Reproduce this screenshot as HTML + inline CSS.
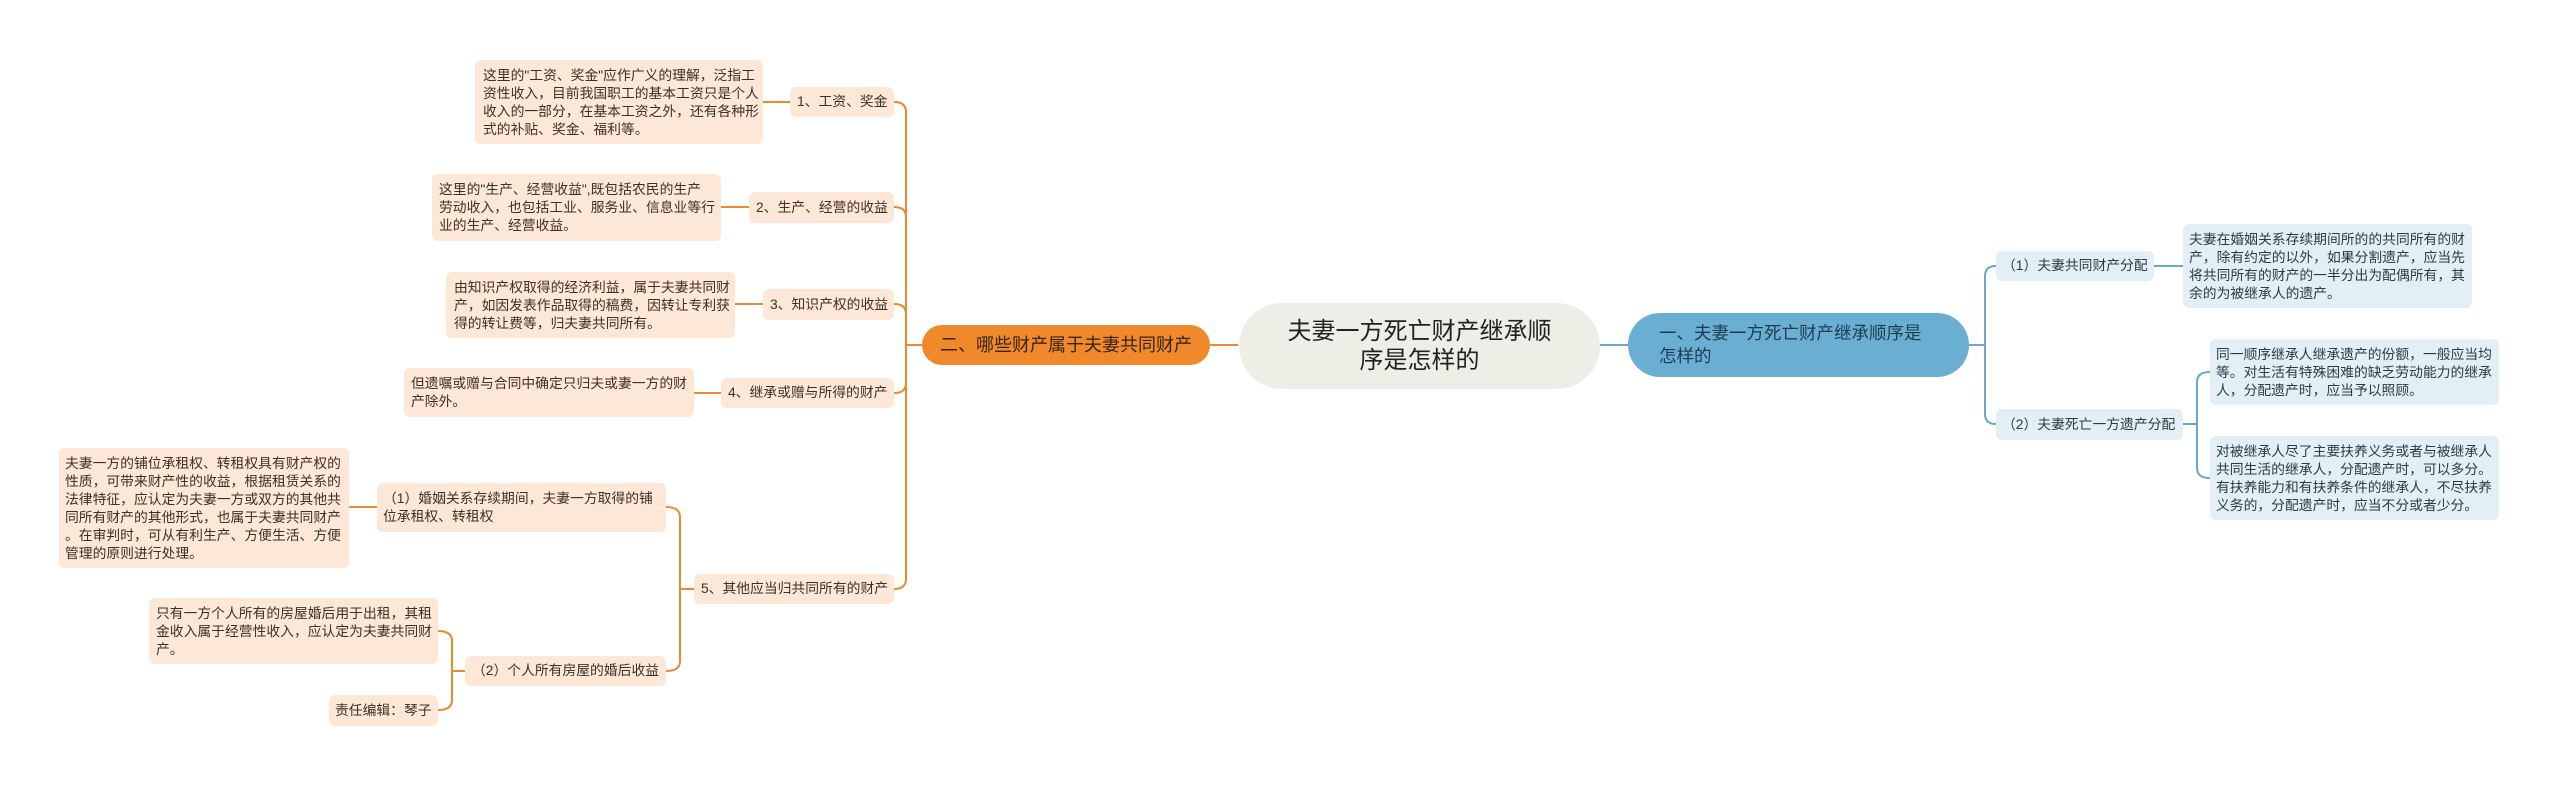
<!DOCTYPE html>
<html><head><meta charset="utf-8"><style>
body{margin:0;width:2560px;height:786px;background:#fff;position:relative;overflow:hidden;font-family:"Liberation Sans","Noto Sans CJK SC",sans-serif;}
.b{position:absolute;box-sizing:border-box;border-radius:6px;white-space:nowrap;font-size:13.8px;line-height:18px;color:#3b3128;}
.p{background:#fde8d7;}
.q{background:#e2eff7;color:#2f3b44;}
.n{display:flex;align-items:center;}
svg{position:absolute;left:0;top:0;}
</style></head><body>
<svg width="2560" height="786" fill="none">
<g stroke="#ea8a2e" stroke-width="2">
<path d="M1238 345 L1210 345"/>
<path d="M922 345 L910 345"/>
<path d="M906 345 L906 112 Q906 102 894 102"/>
<path d="M906 345 L906 217 Q906 207 894 207"/>
<path d="M906 345 L906 314 Q906 304 894 304"/>
<path d="M906 345 L906 383 Q906 393 894 393"/>
<path d="M906 345 L906 579 Q906 589 894 589"/>
<path d="M910 345 L906 345"/>
<path d="M790 102 L763 102"/><path d="M749 207 L721 207"/><path d="M763 304 L735 304"/><path d="M721 393 L694 393"/>
<path d="M694 589 L680 589"/>
<path d="M680 589 L680 517 Q680 507 666 507"/>
<path d="M680 589 L680 661 Q680 671 666 671"/>
<path d="M377 507 L349 507"/>
<path d="M465 671 L452 671"/>
<path d="M452 671 L452 641 Q452 631 438 631"/>
<path d="M452 671 L452 700 Q452 710 438 710"/>
</g>
<g stroke="#6aa8c8" stroke-width="2">
<path d="M1600 345 L1628 345"/>
<path d="M1969 345 L1985 345"/>
<path d="M1985 345 L1985 276 Q1985 266 1996 266"/>
<path d="M1985 345 L1985 414 Q1985 424 1996 424"/>
<path d="M2154 266 L2183 266"/>
<path d="M2183 424 L2197 424"/>
<path d="M2197 424 L2197 382 Q2197 372 2210 372"/>
<path d="M2197 424 L2197 468 Q2197 478 2210 478"/>
</g>
</svg>

<div class="b n" style="left:1239px;top:303px;width:361px;height:86px;border-radius:43px;background:#efeee6;justify-content:center;text-align:center;font-size:24px;line-height:29px;color:#222;">夫妻一方死亡财产继承顺<br>序是怎样的</div>
<div class="b n" style="left:922px;top:325px;width:288px;height:40px;border-radius:20px;background:#f0892b;justify-content:center;font-size:18px;color:#3a2410;">二、哪些财产属于夫妻共同财产</div>
<div class="b n" style="left:1628px;top:313px;width:341px;height:64px;border-radius:32px;background:#6aaed2;padding-left:31px;font-size:17.5px;line-height:23px;color:#1d3d52;">一、夫妻一方死亡财产继承顺序是<br>怎样的</div>

<div class="b p" style="left:475px;top:60px;width:288px;height:84px;padding:7px 0 0 8px;">这里的"工资、奖金"应作广义的理解，泛指工<br>资性收入，目前我国职工的基本工资只是个人<br>收入的一部分，在基本工资之外，还有各种形<br>式的补贴、奖金、福利等。</div>
<div class="b p n" style="left:790px;top:87px;width:104px;height:30px;padding-left:7px;">1、工资、奖金</div>
<div class="b p" style="left:432px;top:174px;width:289px;height:67px;padding:7px 0 0 7px;">这里的"生产、经营收益",既包括农民的生产<br>劳动收入，也包括工业、服务业、信息业等行<br>业的生产、经营收益。</div>
<div class="b p n" style="left:749px;top:192px;width:145px;height:31px;padding-left:7px;">2、生产、经营的收益</div>
<div class="b p" style="left:446px;top:272px;width:289px;height:66px;padding:7px 0 0 8px;">由知识产权取得的经济利益，属于夫妻共同财<br>产，如因发表作品取得的稿费，因转让专利获<br>得的转让费等，归夫妻共同所有。</div>
<div class="b p n" style="left:763px;top:289px;width:131px;height:31px;padding-left:7px;">3、知识产权的收益</div>
<div class="b p" style="left:404px;top:368px;width:290px;height:49px;padding:7px 0 0 7px;">但遗嘱或赠与合同中确定只归夫或妻一方的财<br>产除外。</div>
<div class="b p n" style="left:721px;top:378px;width:173px;height:30px;padding-left:7px;">4、继承或赠与所得的财产</div>
<div class="b p n" style="left:694px;top:574px;width:200px;height:30px;padding-left:7px;">5、其他应当归共同所有的财产</div>
<div class="b p" style="left:59px;top:448px;width:290px;height:120px;padding:7px 0 0 6px;">夫妻一方的铺位承租权、转租权具有财产权的<br>性质，可带来财产性的收益，根据租赁关系的<br>法律特征，应认定为夫妻一方或双方的其他共<br>同所有财产的其他形式，也属于夫妻共同财产<br>。在审判时，可从有利生产、方便生活、方便<br>管理的原则进行处理。</div>
<div class="b p" style="left:377px;top:483px;width:289px;height:49px;padding:7px 0 0 6px;">（1）婚姻关系存续期间，夫妻一方取得的铺<br>位承租权、转租权</div>
<div class="b p" style="left:149px;top:598px;width:289px;height:66px;padding:7px 0 0 7px;">只有一方个人所有的房屋婚后用于出租，其租<br>金收入属于经营性收入，应认定为夫妻共同财<br>产。</div>
<div class="b p n" style="left:465px;top:656px;width:201px;height:30px;padding-left:7px;">（2）个人所有房屋的婚后收益</div>
<div class="b p n" style="left:329px;top:695px;width:109px;height:31px;padding-left:6px;">责任编辑：琴子</div>

<div class="b q n" style="left:1996px;top:251px;width:158px;height:30px;padding-left:6px;">（1）夫妻共同财产分配</div>
<div class="b q" style="left:2183px;top:224px;width:289px;height:84px;padding:7px 0 0 6px;">夫妻在婚姻关系存续期间所的的共同所有的财<br>产，除有约定的以外，如果分割遗产，应当先<br>将共同所有的财产的一半分出为配偶所有，其<br>余的为被继承人的遗产。</div>
<div class="b q n" style="left:1996px;top:409px;width:187px;height:31px;padding-left:6px;">（2）夫妻死亡一方遗产分配</div>
<div class="b q" style="left:2210px;top:339px;width:289px;height:66px;padding:7px 0 0 6px;">同一顺序继承人继承遗产的份额，一般应当均<br>等。对生活有特殊困难的缺乏劳动能力的继承<br>人，分配遗产时，应当予以照顾。</div>
<div class="b q" style="left:2210px;top:436px;width:289px;height:84px;padding:7px 0 0 6px;">对被继承人尽了主要扶养义务或者与被继承人<br>共同生活的继承人，分配遗产时，可以多分。<br>有扶养能力和有扶养条件的继承人，不尽扶养<br>义务的，分配遗产时，应当不分或者少分。</div>
</body></html>
